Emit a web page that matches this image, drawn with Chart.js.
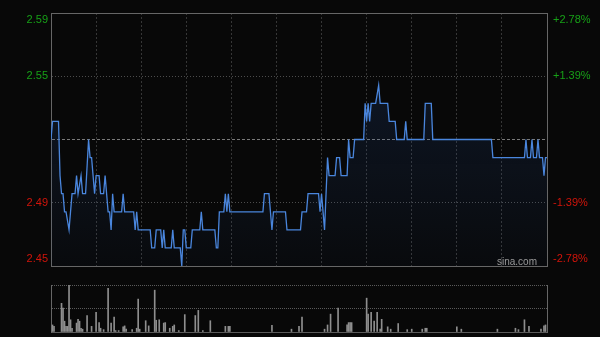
<!DOCTYPE html>
<html><head><meta charset="utf-8">
<script src="https://cdn.jsdelivr.net/npm/chart.js@4"></script>
<style>
html,body{margin:0;padding:0;background:#080808;width:600px;height:337px;overflow:hidden}
#c1{position:absolute;left:0;top:0}
#c2{position:absolute;left:0;top:275px}
</style></head><body>
<canvas id="c1" width="600" height="275"></canvas>
<canvas id="c2" width="600" height="62"></canvas>
<script>
// minutes since 09:30 (330 trading minutes) and price at that minute
const times = [0,1,5,6,7,8,9,10,12,14,16,17,18,20,21,23,25,26,27,28,29,30,32,33,35,36,37,38,39,40,41,42,47,48,49,55,56,57,58,66,67,69,70,73,74,75,76,80,81,82,86,87,88,89,90,93,94,99,100,101,109,110,111,112,115,116,117,118,119,141,142,145,147,148,156,157,166,167,170,171,178,179,180,182,184,185,189,190,192,193,197,198,199,201,202,208,209,210,211,212,213,216,218,219,224,225,229,230,235,236,237,248,249,253,254,293,294,315,316,317,319,320,321,323,324,325,327,328,329,330];
const prices = [2.52,2.53,2.53,2.50,2.49,2.49,2.48,2.48,2.47,2.49,2.49,2.50,2.49,2.50,2.49,2.49,2.52,2.51,2.51,2.50,2.49,2.50,2.50,2.49,2.49,2.50,2.49,2.48,2.48,2.47,2.49,2.48,2.48,2.49,2.48,2.48,2.47,2.48,2.47,2.47,2.46,2.46,2.47,2.47,2.46,2.47,2.46,2.46,2.47,2.46,2.46,2.45,2.47,2.47,2.46,2.46,2.47,2.47,2.48,2.47,2.47,2.46,2.46,2.48,2.48,2.49,2.48,2.49,2.48,2.48,2.49,2.49,2.47,2.48,2.48,2.47,2.47,2.48,2.48,2.49,2.49,2.48,2.49,2.47,2.51,2.50,2.50,2.51,2.51,2.50,2.50,2.52,2.51,2.51,2.52,2.52,2.54,2.53,2.54,2.53,2.54,2.54,2.55,2.54,2.54,2.53,2.53,2.52,2.52,2.53,2.52,2.52,2.54,2.54,2.52,2.52,2.51,2.51,2.52,2.51,2.51,2.52,2.51,2.51,2.52,2.51,2.51,2.50,2.51,2.51];
// volume spikes (relative units)
const volTimes = [1,2,7,8,9,10,11,12,13,14,17,18,19,20,21,24,27,30,32,33,35,38,40,42,43,45,48,49,50,54,57,58,59,63,65,69,70,72,75,76,79,81,82,85,89,96,98,101,106,116,118,119,147,160,165,167,182,184,186,191,197,198,199,200,210,211,213,215,217,219,220,224,226,231,237,240,247,249,250,270,273,297,309,311,315,318,326,328,329];
const volValues = [15,12,61,51,23,12,12,100,26,8,19,27,23,8,6,35,12,42,20,8,5,93,19,32,3,3,11,13,6,5,8,70,6,24,13,89,25,26,19,20,8,12,15,3,37,35,46,3,24,12,12,12,14,6,12,32,6,15,38,51,15,20,20,20,72,38,42,23,42,6,27,11,6,18,5,6,6,8,8,11,6,6,8,5,26,12,6,13,15];
const priceTicks = [2.45, 2.485, 2.52, 2.555, 2.59];
const leftLabels = ['2.45','2.49','','2.55','2.59'];
const rightLabels = ['-2.78%','-1.39%','','+1.39%','+2.78%'];
const volTicks = [0, 50, 100];

const GREEN = '#17a017', RED = '#d2140a';

function hasFont(name){
  const c = document.createElement('canvas').getContext('2d');
  c.font = '40px monospace'; const a = c.measureText('2.59%sina.com').width;
  c.font = '40px "' + name + '", monospace'; const b = c.measureText('2.59%sina.com').width;
  return Math.abs(a-b) > 0.5;
}
const narrow = hasFont('Liberation Sans Narrow');
const tickFont = narrow ? {family:'"Liberation Sans Narrow"', size:12} : {family:'"Liberation Sans", Arial', size:11};
const wmFont = narrow ? '11px "Liberation Sans Narrow"' : '10px "Liberation Sans", Arial';

const tickColor = c => c.index > 2 ? GREEN : (c.index < 2 ? RED : 'rgba(0,0,0,0)');
const multi = (arr) => (v, i) => i === arr.length-1 ? ['', arr[i]] : (i === 0 ? [arr[i], ''] : arr[i]);
const fitW = w => s => { s.width = w; s.paddingTop = 0; s.paddingBottom = 0; s.paddingLeft = 0; s.paddingRight = 0; };
const fitH0 = s => { s.height = 0; s.paddingTop = 0; s.paddingBottom = 0; s.paddingLeft = 0; s.paddingRight = 0; };

const watermark = {
  id:'wm',
  afterDatasetsDraw(chart){
    const {ctx, chartArea} = chart;
    ctx.save();
    ctx.font = wmFont;
    ctx.fillStyle = '#9a9a9a';
    ctx.textAlign = 'right';
    ctx.textBaseline = 'alphabetic';
    ctx.fillText('sina.com', chartArea.right - 10, chartArea.bottom - 1);
    ctx.restore();
  }
};

new Chart(document.getElementById('c1'), {
  type:'line',
  data:{datasets:[{
    data: times.map((t,i)=>({x:t, y:prices[i]})),
    borderColor:'#4a86dd',
    borderWidth:1.3,
    pointRadius:0,
    tension:0,
    fill:'start',
    backgroundColor:(c)=>{
      const {ctx, chartArea} = c.chart;
      if(!chartArea) return 'rgba(30,60,120,0.15)';
      const g = ctx.createLinearGradient(0, chartArea.top, 0, chartArea.bottom);
      g.addColorStop(0, 'rgba(40,80,150,0.26)');
      g.addColorStop(1, 'rgba(40,80,150,0.04)');
      return g;
    }
  }]},
  options:{
    responsive:false, animation:false, devicePixelRatio:1,
    layout:{padding:{top:13, bottom:9, left:0, right:0}},
    plugins:{legend:{display:false}, tooltip:{enabled:false}},
    scales:{
      x:{type:'linear', min:0, max:330, offset:false,
        afterFit:fitH0,
        ticks:{display:false, stepSize:30},
        grid:{drawTicks:false, lineWidth:1,
          color:c=>(c.tick && (c.tick.value===0||c.tick.value===330)) ? 'rgba(0,0,0,0)' : '#363636'},
        border:{color:'#666', dash:c=>(c.index===undefined ? [] : [2,2])}
      },
      y:{type:'linear', position:'left', min:2.45, max:2.59,
        afterBuildTicks:s=>{s.ticks = priceTicks.map(v=>({value:v}));},
        afterFit:fitW(51),
        ticks:{callback:multi(leftLabels), color:tickColor, font:tickFont, padding:3, autoSkip:false},
        grid:{drawTicks:false,
          color:c=>(c.index===0||c.index===4) ? '#666' : (c.index===2 ? '#7a7a7a' : '#4c4c4c')},
        border:{color:'#666',
          dash:c=>(c.index===undefined||c.index===0||c.index===4) ? [] : (c.index===2 ? [3,2] : [1,2])}
      },
      yR:{type:'linear', position:'right', min:2.45, max:2.59,
        afterBuildTicks:s=>{s.ticks = priceTicks.map(v=>({value:v}));},
        afterFit:fitW(53),
        ticks:{callback:multi(rightLabels), color:tickColor, font:tickFont, padding:6, autoSkip:false},
        grid:{drawOnChartArea:false, drawTicks:false},
        border:{color:'#666'}
      }
    }
  },
  plugins:[watermark]
});

new Chart(document.getElementById('c2'), {
  type:'bar',
  data:{datasets:[{
    data: volTimes.map((t,i)=>({x:t, y:volValues[i]})),
    backgroundColor:'#8e8e8e',
    barThickness:1,
    borderWidth:0
  }]},
  options:{
    responsive:false, animation:false, devicePixelRatio:1,
    layout:{padding:{top:10, bottom:5, left:0, right:0}},
    plugins:{legend:{display:false}, tooltip:{enabled:false}},
    scales:{
      x:{type:'linear', min:0, max:330, offset:false,
        afterFit:fitH0,
        ticks:{display:false},
        grid:{display:false, offset:false},
        border:{color:'#5a5a5a'}
      },
      y:{type:'linear', position:'left', min:0, max:100,
        afterBuildTicks:s=>{s.ticks = volTicks.map(v=>({value:v}));},
        afterFit:fitW(51),
        ticks:{display:false},
        grid:{drawTicks:false, color:c=>c.index===0 ? 'rgba(0,0,0,0)' : '#5a5a5a'},
        border:{color:'#666', dash:c=>(c.index===undefined ? [] : [1,1])}
      },
      yR:{type:'linear', position:'right', min:0, max:100,
        afterFit:fitW(53),
        ticks:{display:false},
        grid:{drawOnChartArea:false, drawTicks:false},
        border:{color:'#666'}
      }
    }
  }
});
</script>
</body></html>
